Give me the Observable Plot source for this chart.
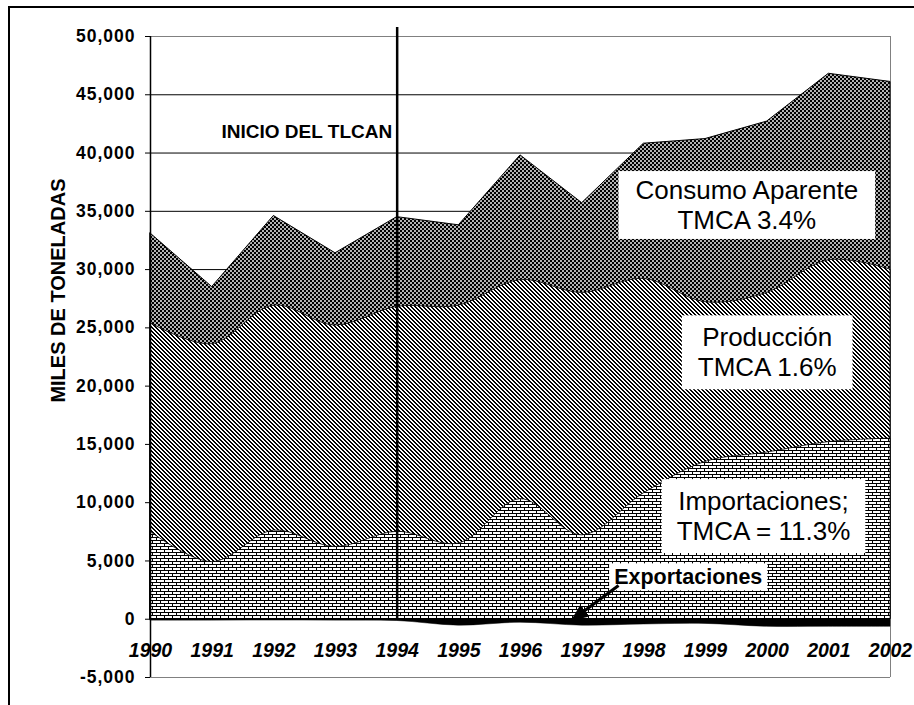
<!DOCTYPE html>
<html><head><meta charset="utf-8">
<script src="https://cdn.jsdelivr.net/npm/d3@7"></script>
<script src="https://cdn.jsdelivr.net/npm/@observablehq/plot@0.6"></script>
<style>
html,body{margin:0;padding:0;background:#fff;}
#wrap{position:relative;width:914px;height:705px;overflow:hidden;font-family:"Liberation Sans",Arial,sans-serif;background:#fff;}
#border{position:absolute;left:8px;top:6px;width:1000px;height:1000px;border-left:2px solid #000;border-top:2px solid #000;box-sizing:border-box;pointer-events:none;z-index:2;}
#chart{position:absolute;left:0;top:0;}
</style></head><body>
<div id="wrap"><div id="chart"></div><div id="border"></div></div>
<script>
// ---- data ----
const years = [1990,1991,1992,1993,1994,1995,1996,1997,1998,1999,2000,2001,2002];
const consumo = [33100,28500,34600,31400,34500,33800,39800,35700,40800,41200,42700,46800,46100];
const produccion = [25400,23600,26900,25200,26800,26900,29100,28000,29200,27200,28000,30800,30000];
const importaciones = [7500,4900,7600,6200,7500,6500,10300,7200,10800,13500,14300,15200,15500];
const exportaciones = [-100,-100,-50,-100,-150,-550,-300,-550,-450,-400,-650,-650,-650];
const yTicks = [-5000,0,5000,10000,15000,20000,25000,30000,35000,40000,45000,50000];
const tlcanYear = 1994;
const yTitle = "MILES DE TONELADAS";
const tlcanLabel = "INICIO DEL TLCAN";
const labelConsumo = "Consumo Aparente\nTMCA 3.4%";
const labelProd = "Producción\nTMCA 1.6%";
const labelImp = "Importaciones;\nTMCA = 11.3%";
const labelExp = "Exportaciones";

const data = years.map((year, i) => ({year, consumo: consumo[i], produccion: produccion[i], importaciones: importaciones[i], exportaciones: exportaciones[i]}));
const fmt = d => d3.format(",")(d).replace("\u2212", "-");
const yMin = yTicks[0], yMax = yTicks[yTicks.length - 1];

const plot = Plot.plot({
  width: 914, height: 705,
  marginLeft: 150, marginRight: 24, marginTop: 36, marginBottom: 28,
  x: {domain: [years[0], years[years.length - 1]]},
  y: {domain: [yMin, yMax]},
  style: {fontFamily: "'Liberation Sans', Arial, sans-serif", background: "white", overflow: "visible", color: "#000"},
  marks: [
    Plot.gridY(yTicks.filter(d => d > 0 && d < yMax), {stroke: "#000", strokeOpacity: 1}),
    Plot.ruleY([yMax], {stroke: "#808080"}),
    Plot.ruleY([yMin], {stroke: "#808080"}),
    Plot.ruleX([years[years.length - 1]], {stroke: "#808080"}),
    Plot.areaY(data, {x: "year", y: "consumo", fill: "url(#patConsumo)", stroke: "#000", strokeWidth: 1}),
    Plot.areaY(data, {x: "year", y: "produccion", fill: "url(#patProd)", stroke: "#000", strokeWidth: 0.8, curve: "catmull-rom"}),
    Plot.areaY(data, {x: "year", y: "importaciones", fill: "url(#patImp)", stroke: "#000", strokeWidth: 0.8, curve: "catmull-rom"}),
    Plot.areaY(data, {x: "year", y: "exportaciones", fill: "#000", stroke: "#000", strokeWidth: 0.5, curve: "catmull-rom"}),
    Plot.ruleX([years[0]], {stroke: "#000", strokeWidth: 1.5}),
    Plot.ruleY([0], {stroke: "#000", strokeWidth: 2}),
    Plot.ruleX([tlcanYear], {y1: yMax, y2: 0, insetTop: -9, stroke: "#000", strokeWidth: 2.5}),
    Plot.axisY({ticks: yTicks, tickSize: 5, tickPadding: 10, tickFormat: fmt, fontSize: 17.5, fontWeight: "bold", label: null}),
    Plot.axisX({ticks: years, tickSize: 0, tickPadding: 0, dy: -34, tickFormat: d => String(d), fontSize: 19.5, fontWeight: "bold", fontStyle: "italic", label: null}),
    Plot.text([yTitle], {frameAnchor: "left", y: 28200, dx: -92, rotate: -90, textAnchor: "middle", text: d => d, fontSize: 20, fontWeight: "bold"}),
    Plot.text([tlcanLabel], {x: tlcanYear, y: 41850, dx: -5, textAnchor: "end", text: d => d, fontSize: 19, fontWeight: "bold"}),
    Plot.text([labelConsumo], {x: 1999.67, y: 35590, text: d => d, fontSize: 26, lineHeight: 1.15, lineAnchor: "middle"}),
    Plot.text([labelProd], {x: 2000.0, y: 22950, text: d => d, fontSize: 26, lineHeight: 1.15, lineAnchor: "middle"}),
    Plot.text([labelImp], {x: 1999.94, y: 8900, text: d => d, fontSize: 26, lineHeight: 1.15, lineAnchor: "middle"}),
    Plot.text([labelExp], {x: 1998.72, y: 3625, text: d => d, fontSize: 21.5, fontWeight: "bold", lineAnchor: "middle"}),
    Plot.link([labelExp], {x1: 1997.59, y1: 2900, x2: 1996.87, y2: 60, stroke: "#000", strokeWidth: 3})
  ]
});

document.getElementById("chart").appendChild(plot);
const svg = d3.select(plot);
const defs = svg.insert("defs", ":first-child");

// Consumo: dark with white dots
const p1 = defs.append("pattern").attr("id", "patConsumo").attr("patternUnits", "userSpaceOnUse").attr("width", 4).attr("height", 4);
p1.append("rect").attr("width", 4).attr("height", 4).attr("fill", "#000");
p1.append("circle").attr("cx", 1).attr("cy", 1).attr("r", 0.95).attr("fill", "#fff");
p1.append("circle").attr("cx", 3).attr("cy", 3).attr("r", 0.95).attr("fill", "#fff");

// Producción: diagonal "\" lines (pixel-crisp)
const p2 = defs.append("pattern").attr("id", "patProd").attr("patternUnits", "userSpaceOnUse").attr("width", 4).attr("height", 4);
p2.append("rect").attr("width", 4).attr("height", 4).attr("fill", "#fff");
[[0,0],[1,0],[1,1],[2,1],[2,2],[3,2],[3,3],[0,3]].forEach(([x, y]) =>
  p2.append("rect").attr("x", x).attr("y", y).attr("width", 1).attr("height", 1).attr("fill", "#000").attr("shape-rendering", "crispEdges"));

// Importaciones: bricks
const p3 = defs.append("pattern").attr("id", "patImp").attr("patternUnits", "userSpaceOnUse").attr("width", 8).attr("height", 6);
p3.append("rect").attr("width", 8).attr("height", 6).attr("fill", "#fff");
p3.append("path").attr("d", "M0,0.5H8M0,3.5H8M0.5,0.5V3.5M4.5,3.5V6.5").attr("stroke", "#000").attr("stroke-width", 1).attr("fill", "none").attr("shape-rendering", "crispEdges");

// Arrow head (filled)
const mk = defs.append("marker").attr("id", "arrowHead").attr("viewBox", "0 0 12 10").attr("refX", 9).attr("refY", 5)
  .attr("markerUnits", "userSpaceOnUse").attr("markerWidth", 18).attr("markerHeight", 15).attr("orient", "auto");
mk.append("path").attr("d", "M0,0L12,5L0,10z").attr("fill", "#000");
svg.selectAll('g[aria-label="link"] path').attr("marker-end", "url(#arrowHead)");

// letter spacing for tick labels
svg.selectAll('g[aria-label="y-axis tick label"] text').style("letter-spacing", "1px");

// white boxes behind annotation labels
const pads = new Map([[labelConsumo, [17, 4]], [labelProd, [16, 7]], [labelImp, [15, 7]], [labelExp, [5, 1.5]]]);
const norm = s => s.replace(/\n/g, "");
svg.selectAll('g[aria-label="text"] text').each(function() {
  const t = this.textContent;
  for (const [k, [px, py]] of pads) {
    if (norm(k) === t) {
      const b = this.getBBox();
      const tr = this.getAttribute("transform");
      const r = document.createElementNS("http://www.w3.org/2000/svg", "rect");
      r.setAttribute("x", b.x - px); r.setAttribute("y", b.y - py);
      r.setAttribute("width", b.width + 2 * px); r.setAttribute("height", b.height + 2 * py);
      r.setAttribute("fill", "#fff");
      if (tr) r.setAttribute("transform", tr);
      this.parentNode.insertBefore(r, this);
    }
  }
});
</script>
</body></html>
